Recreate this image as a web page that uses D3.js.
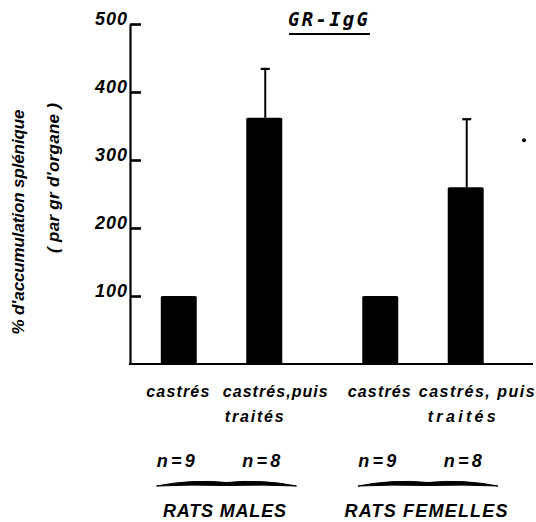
<!DOCTYPE html>
<html><head><meta charset="utf-8">
<script src="https://cdn.jsdelivr.net/npm/d3@7"></script>
<style>
html,body{margin:0;padding:0;background:#fff;}
svg text{font-family:"Liberation Sans",Arial,sans-serif;font-style:italic;fill:#000;}
</style></head>
<body><svg id="chart" width="536" height="522"></svg>
<script>
// ---- data ----
const groups = ["RATS MALES", "RATS FEMELLES"];
const subgroups = ["castrés", "castrés, puis traités"];
const values = [[100, 362], [100, 260]];       // % accumulation
const errors = [[0, 72], [0, 100]];            // upper error (SD)
const nLabels = [["n=9", "n=8"], ["n=9", "n=8"]];
const yTicks = [100, 200, 300, 400, 500];
const title = "GR-IgG";
const yLabel1 = "% d'accumulation splénique";
const yLabel2 = "( par gr d'organe )";

// ---- layout ----
const svg = d3.select("#chart");
const axisX = 130, baseY = 364, topY = 24, axisEndX = 533;
const y = d3.scaleLinear().domain([0, 500]).range([baseY, topY]);
const xOuter = d3.scaleBand().domain(groups).range([136, 508.5]).paddingInner(0.151).paddingOuter(0);
const xInner = d3.scaleBand().domain(subgroups).range([0, xOuter.bandwidth()]).paddingInner(0.579).paddingOuter(0.29);
const cx = (g, s) => xOuter(groups[g]) + xInner(subgroups[s]) + xInner.bandwidth() / 2;

// y axis
const yAxis = d3.axisLeft(y).tickValues(yTicks).tickSizeInner(-11).tickSizeOuter(0).tickPadding(3);
const ya = svg.append("g").attr("transform", `translate(${axisX},0)`).call(yAxis);
ya.select(".domain").attr("stroke", "#000").attr("stroke-width", 2.2);
ya.selectAll(".tick line").attr("stroke", "#000").attr("stroke-width", 2.6);
ya.selectAll(".tick text").attr("dy", "0.05em").attr("x", -3)
  .style("font-size", "18px").style("font-family", "Liberation Sans, Arial, sans-serif")
  .style("font-style", "italic").style("font-weight", "bold").attr("fill", "#000")
  .attr("textLength", 32).attr("lengthAdjust", "spacing");

// x axis line
svg.append("line").attr("x1", axisX - 1).attr("x2", axisEndX).attr("y1", baseY).attr("y2", baseY)
  .attr("stroke", "#000").attr("stroke-width", 2.2);

// bars
const bars = [];
values.forEach((row, g) => row.forEach((v, s) => bars.push({g, s, v, e: errors[g][s]})));
svg.append("g").selectAll("rect").data(bars).join("rect")
  .attr("x", d => cx(d.g, d.s) - xInner.bandwidth() / 2)
  .attr("width", xInner.bandwidth())
  .attr("y", d => y(d.v))
  .attr("height", d => y(0) - y(d.v))
  .attr("rx", 1.5)
  .attr("fill", "#000");

// error bars
const eb = svg.append("g").selectAll("g").data(bars.filter(d => d.e > 0)).join("g");
eb.append("line").attr("x1", d => cx(d.g, d.s) + 1).attr("x2", d => cx(d.g, d.s) + 1)
  .attr("y1", d => y(d.v)).attr("y2", d => y(d.v + d.e))
  .attr("stroke", "#000").attr("stroke-width", 2);
eb.append("line").attr("x1", d => cx(d.g, d.s) - 3.5).attr("x2", d => cx(d.g, d.s) + 5.5)
  .attr("y1", d => y(d.v + d.e)).attr("y2", d => y(d.v + d.e))
  .attr("stroke", "#000").attr("stroke-width", 2.2);

// stray dot from the original print
svg.append("circle").attr("cx", axisEndX - 9).attr("cy", y(329)).attr("r", 2).attr("fill", "#000");

// title
svg.append("text").attr("x", 288).attr("y", 26).text(title)
  .style("font-family", "DejaVu Sans Mono, monospace").style("font-size", "19px").style("font-weight", "bold")
  .attr("textLength", 80).attr("lengthAdjust", "spacing");
svg.append("line").attr("x1", 289).attr("x2", 370).attr("y1", 34).attr("y2", 34)
  .attr("stroke", "#000").attr("stroke-width", 2);

// y-axis labels
svg.append("text").attr("transform", `translate(24,${222}) rotate(-90)`).attr("text-anchor", "middle")
  .text(yLabel1).style("font-size", "17px").style("font-weight", "bold").attr("textLength", 225).attr("lengthAdjust", "spacing");
svg.append("text").attr("transform", `translate(59,${178}) rotate(-90)`).attr("text-anchor", "middle")
  .text(yLabel2).style("font-size", "17px").style("font-weight", "bold").attr("textLength", 150).attr("lengthAdjust", "spacing");

// category labels
const catG = svg.append("g");
const cat = (x, yy, t, len) => catG.append("text").attr("x", x).attr("y", yy).attr("text-anchor", "middle")
  .text(t).style("font-size", "16px").style("font-weight", "bold")
  .attr("textLength", len).attr("lengthAdjust", "spacing");
groups.forEach((gName, g) => {
  const c0 = cx(g, 0), c1 = cx(g, 1);
  cat(c0 - 1, 397, "castrés", 63);
  cat(c1 + 11, 397, g === 0 ? "castrés,puis" : "castrés, puis", g === 0 ? 105 : 116);
  cat(c1 - (g === 0 ? 10 : 4), 422, "traités", g === 0 ? 59 : 68);
  // n labels
  nLabels[g].forEach((t, s) => {
    svg.append("text").attr("x", cx(g, s) - 3).attr("y", 467).attr("text-anchor", "middle")
      .text(t).style("font-size", "18px").style("font-weight", "bold").attr("textLength", 38).attr("lengthAdjust", "spacing");
  });
  // brace (calligraphic, filled)
  const mid = xOuter(gName) + xOuter.bandwidth() / 2 + 5, hw = 70, by = 485;
  const p = d3.path();
  p.moveTo(mid - hw, by + 1);
  p.quadraticCurveTo(mid - hw / 2, by - 6, mid, by - 2.5);
  p.quadraticCurveTo(mid + hw / 2, by - 6, mid + hw, by + 1);
  p.quadraticCurveTo(mid + hw / 2, by - 0.5, mid + 1, by + 0.5);
  p.lineTo(mid - 1, by + 0.5);
  p.quadraticCurveTo(mid - hw / 2, by - 0.5, mid - hw, by + 1);
  p.closePath();
  svg.append("path").attr("d", p.toString()).attr("fill", "#000").attr("stroke", "#000").attr("stroke-width", 1);
  // group label
  svg.append("text").attr("x", mid - 2).attr("y", 517).attr("text-anchor", "middle")
    .text(gName).style("font-size", "18px").style("font-weight", "bold").attr("textLength", g === 0 ? 123 : 163).attr("lengthAdjust", "spacing");
});
</script></body></html>
